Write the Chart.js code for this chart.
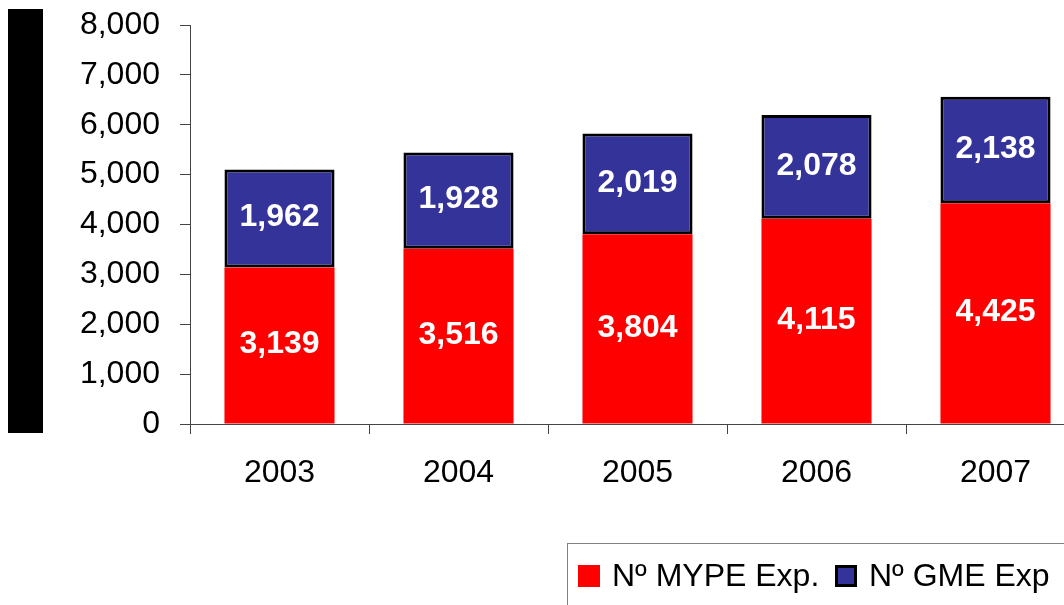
<!DOCTYPE html>
<html>
<head>
<meta charset="utf-8">
<title>MYPE / GME</title>
<script src="https://cdn.jsdelivr.net/npm/chart.js@4.4.1/dist/chart.umd.min.js"></script>
<style>
  html, body { margin: 0; padding: 0; background: #fff; overflow: hidden; }
  #wrap { position: relative; width: 1064px; height: 605px; overflow: hidden; }
  #chart { position: absolute; left: 0; top: 0; }
  #leftbar { position: absolute; left: 8px; top: 9px; width: 35px; height: 424px; background: #000; }
  #legend {
    position: absolute; left: 567px; top: 543px; width: 540px; height: 90px;
    border: 1px solid #808080; box-sizing: border-box;
    font: 32px "Liberation Sans", Arial, sans-serif; color: #000;
  }
  #legend .item { position: absolute; top: 16px; height: 30px; line-height: 30px; white-space: nowrap; }
  #legend .box { display: inline-block; width: 22px; height: 22px; vertical-align: middle; margin-right: 12px; box-sizing: border-box; position: relative; top: -2px; }
</style>
</head>
<body>
<div id="wrap">
  <canvas id="chart" width="1090" height="605"></canvas>
  <div id="leftbar"></div>
  <div id="legend"></div>
</div>
<script>
const years = ["2003", "2004", "2005", "2006", "2007"];
const mypeExp = [3139, 3516, 3804, 4115, 4425];
const gmeExp = [1962, 1928, 2019, 2078, 2138];
const seriesNames = ["N\u00BA MYPE Exp.", "N\u00BA GME Exp"];
const yMax = 8000;
const yStep = 1000;

const fmt = v => Number(v).toLocaleString('en-US');
const font = '"Liberation Sans", Arial, sans-serif';

// values written in the middle of each bar segment
const barValues = {
  id: 'barValues',
  afterDatasetsDraw(chart) {
    const ctx = chart.ctx;
    ctx.save();
    ctx.font = 'bold 32px ' + font;
    ctx.fillStyle = '#fff';
    ctx.textAlign = 'center';
    ctx.textBaseline = 'middle';
    chart.data.datasets.forEach((ds, i) => {
      chart.getDatasetMeta(i).data.forEach((bar, j) => {
        ctx.fillText(fmt(ds.data[j]), bar.x, (bar.y + bar.base) / 2 - 1);
      });
    });
    ctx.restore();
  }
};

const ctx = document.getElementById('chart').getContext('2d');
const chart = new Chart(ctx, {
  type: 'bar',
  data: {
    labels: years,
    datasets: [{
      label: seriesNames[0],
      data: mypeExp,
      backgroundColor: '#ff0000',
      borderWidth: 0
    }, {
      label: seriesNames[1],
      data: gmeExp,
      backgroundColor: '#333399',
      borderColor: '#000',
      borderWidth: 3,
      borderSkipped: false
    }]
  },
  options: {
    responsive: false,
    animation: false,
    devicePixelRatio: 1,
    layout: { padding: { top: 25, right: 5, left: 0, bottom: 0 } },
    datasets: { bar: { categoryPercentage: 0.615, barPercentage: 1 } },
    scales: {
      x: {
        stacked: true,
        afterFit(scale) {
          scale.height = 181;
          scale.paddingLeft = 0;
          scale.paddingRight = 0;
        },
        grid: { drawOnChartArea: false, tickLength: 10, color: '#444', offset: true },
        border: { color: '#444', width: 1 },
        ticks: { color: '#000', font: { family: font, size: 32 }, padding: 20 }
      },
      y: {
        stacked: true,
        min: 0,
        max: yMax,
        afterFit(scale) {
          scale.width = 190;
          scale.paddingTop = 0;
          scale.paddingBottom = 0;
        },
        grid: { drawOnChartArea: false, tickLength: 10, color: '#444' },
        border: { color: '#444', width: 1 },
        ticks: {
          stepSize: yStep,
          color: '#000',
          padding: 20,
          font: { family: font, size: 32 },
          callback: v => fmt(v)
        }
      }
    },
    plugins: {
      legend: { display: false },
      tooltip: { enabled: false }
    }
  },
  plugins: [barValues]
});

// legend built from the chart's datasets
const legend = document.getElementById('legend');
const itemLeft = [10, 267];
chart.data.datasets.forEach((ds, i) => {
  const item = document.createElement('div');
  item.className = 'item';
  item.style.left = itemLeft[i] + 'px';
  const box = document.createElement('span');
  box.className = 'box';
  box.style.background = ds.backgroundColor;
  if (ds.borderWidth) box.style.border = '3px solid ' + ds.borderColor;
  item.appendChild(box);
  item.appendChild(document.createTextNode(ds.label));
  legend.appendChild(item);
});
</script>
</body>
</html>
